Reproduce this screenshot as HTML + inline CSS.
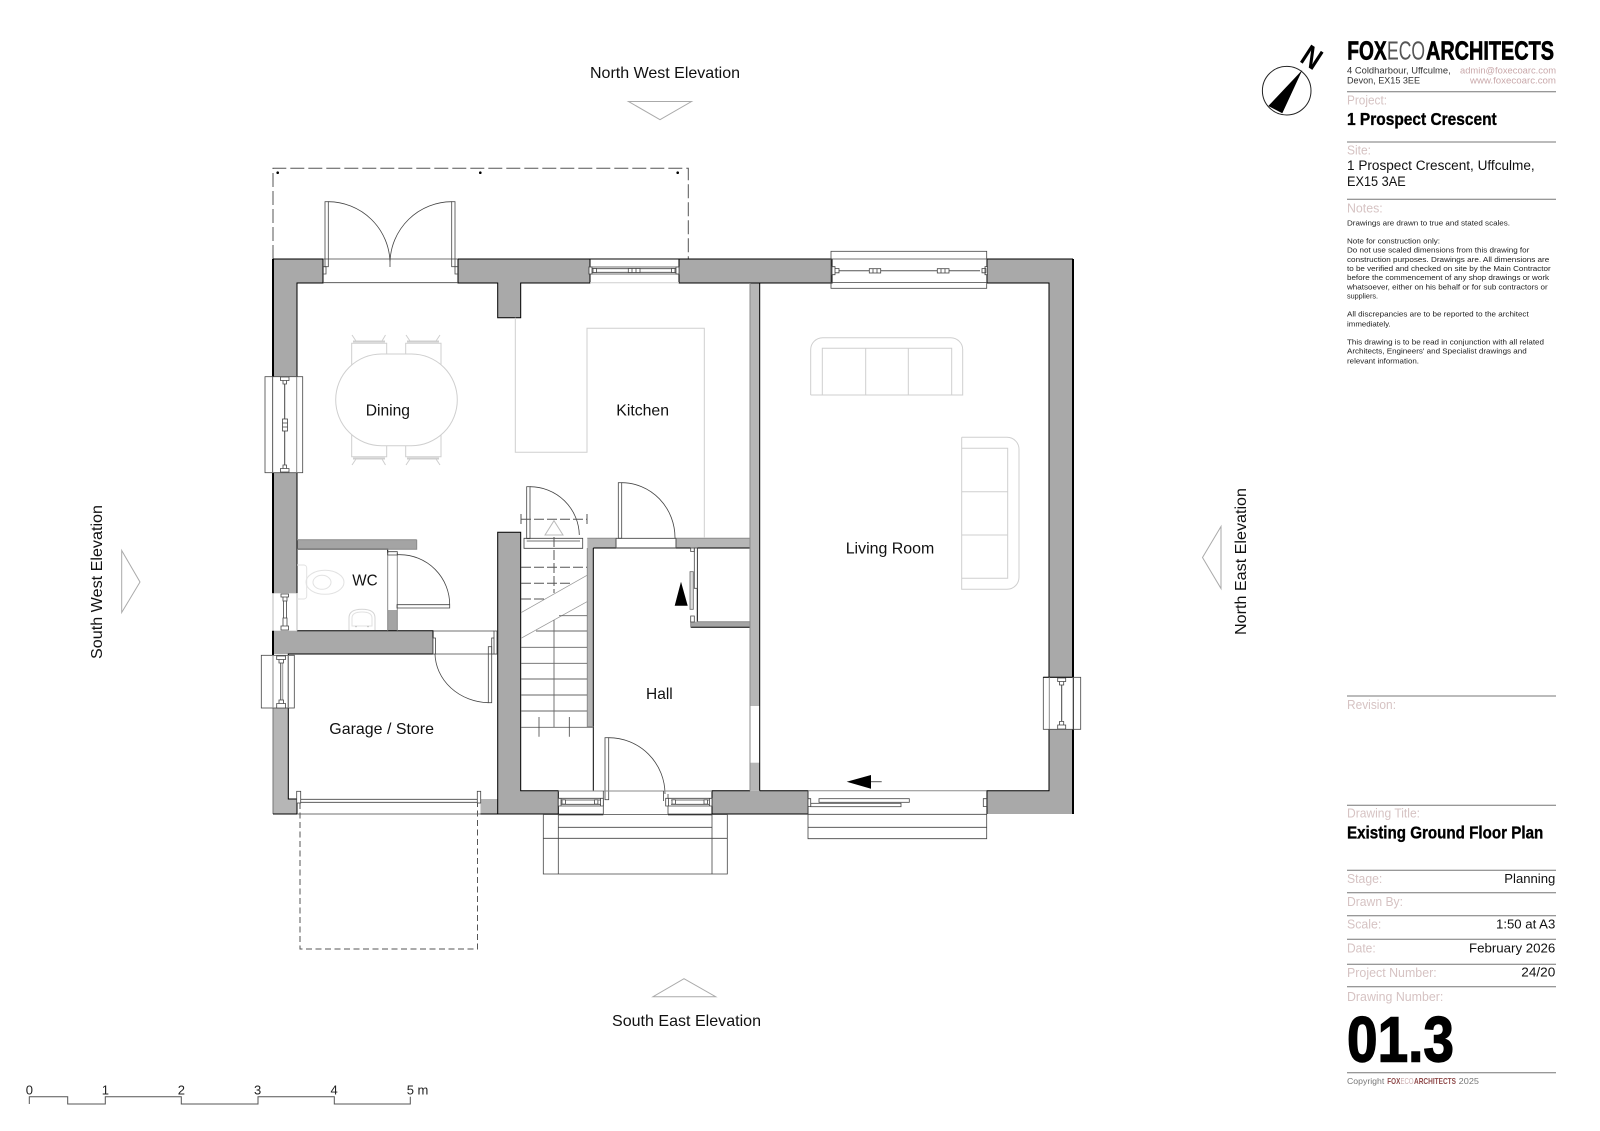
<!DOCTYPE html>
<html><head><meta charset="utf-8"><title>Existing Ground Floor Plan</title>
<style>
html,body{margin:0;padding:0;background:#fff}
svg{display:block;font-family:"Liberation Sans",Arial,sans-serif}
.w{fill:#a9a9a9}.l{fill:#b6b6b6}
.k{fill:none;stroke:#000;stroke-width:1}
.g{fill:none;stroke:#444;stroke-width:.8}
.m{fill:none;stroke:#8a8a8a;stroke-width:1}
.f{fill:none;stroke:#cfcfcf;stroke-width:1}
.fw{fill:#fff;stroke:#444;stroke-width:.8}
.r{font-size:16px;fill:#111}
.lb{font-size:13px;fill:#d6c3c3}
.v{font-size:13px;fill:#111}
.n{font-size:7.4px;fill:#222}
.b{font-weight:bold;fill:#000;stroke:#000;stroke-width:.35}
.rule{stroke:#777;stroke-width:1}
</style></head><body>
<svg width="1600" height="1131" viewBox="0 0 1600 1131" xmlns="http://www.w3.org/2000/svg">
<rect width="1600" height="1131" fill="#fff"/>

<!-- dashed canopy -->
<path d="M273 259V168.3H688.3V259" fill="none" stroke="#555" stroke-width="1" stroke-dasharray="14 4"/>
<circle cx="277.7" cy="172.7" r="1.3" fill="#000"/><circle cx="480.3" cy="172.7" r="1.3" fill="#000"/><circle cx="677.7" cy="172.7" r="1.3" fill="#000"/>

<!-- walls -->
<rect class="w" x="273" y="259" width="50" height="24"/>
<rect class="w" x="273" y="259" width="24" height="118"/>
<rect class="w" x="273" y="472.7" width="24" height="120.6"/>
<rect class="w" x="458" y="259" width="132" height="24"/>
<rect class="w" x="497.7" y="283" width="23" height="34.7"/>
<rect class="w" x="679" y="259" width="153" height="24"/>
<rect class="w" x="987" y="259" width="86" height="24"/>
<rect class="w" x="1049" y="259" width="24" height="418"/>
<rect class="w" x="1049" y="729" width="24" height="85"/>
<rect class="w" x="987" y="790.7" width="86" height="23.3"/>
<rect class="w" x="273" y="630.7" width="160" height="23.3"/>
<rect class="w" x="497.7" y="532.3" width="23" height="281.7"/>
<rect class="w" x="497.7" y="790.7" width="60.6" height="23.3"/>
<rect class="w" x="712" y="790.7" width="96" height="23.3"/>
<rect class="l" x="273" y="708" width="15.3" height="106"/>
<rect class="l" x="273" y="799" width="24" height="15"/>
<rect class="l" x="480.5" y="799" width="17.2" height="15"/>
<rect x="297" y="539.7" width="119.7" height="9.6" fill="#a4a4a4"/>
<rect x="387.7" y="610" width="9.6" height="20.7" fill="#a4a4a4"/>
<rect class="l" x="587.3" y="548" width="6" height="178.7"/>
<rect class="l" x="587.3" y="538.3" width="28.7" height="10"/>
<rect class="l" x="676" y="538.3" width="74" height="10"/>
<rect class="l" x="750" y="283" width="9.7" height="423"/>
<rect class="l" x="750" y="762.7" width="9.7" height="28"/>
<rect x="690.7" y="621.7" width="59.3" height="5.6" fill="#a4a4a4"/>

<!-- wall edges -->
<path d="M273 259V593.3M1073 259V814" fill="none" stroke="#000" stroke-width="2"/>
<path d="M273 630.7V655" fill="none" stroke="#000" stroke-width="2"/>
<path d="M273 708V814" stroke="#777" stroke-width="1"/>
<path class="k" d="M273 259H323M458 259H590M679 259H832M987 259H1073"/>
<path class="k" d="M297 377V283H323V259M323 259V283M458 259V283H497.7V317.7H520.7V283H590V259M679 259V283H832V259M759.7 283V790.7M759.7 283H832M987 259V283H1049V677M1049 729V790.7H987V814"/>
<path class="k" d="M297 472.7V593.3M297 549.3H387.7V553M297 630.7H433V654H288.3V708M288.3 708V799H297V814M273 814H297"/>
<path class="k" d="M497.7 814V532.3H520.7V790.7H558.3V814M497.7 814H480.5M712 814V790.7H750M759.7 790.7H808V814H712M558.3 814H497.7"/>
<path class="m" d="M416.7 539.7V549.3H297M297 539.7H416.7M387.7 610V630.7M397.3 610V630.7M387.7 553V610M397.3 553V610"/>
<path class="k" d="M593.3 548H690.7M593.3 548V726.7M593.3 726.7V790.7M697.3 548H750M697.3 548V621.7M690.7 627.3H750"/>
<path class="m" d="M587.3 548V726.7H593.3M697.3 621.7H750M690.7 621.7V627.3"/>
<path class="m" d="M750 283V790.7M587.3 538.3H616V548M676 548V538.3H750V548"/>
<path d="M558.3 814.5H603.3M668 814.5H712" stroke="#000" stroke-width="1.6"/>

<!-- double doors top -->
<path class="g" d="M323 259H458M323 282.7H458"/>
<rect class="g" x="325" y="201.7" width="3.3" height="65"/><rect class="g" x="451.7" y="201.7" width="3.3" height="65"/>
<path class="g" d="M323 266.7H326V274H323M458 266.7H455V274H458"/>
<path class="g" d="M328.3 201.7A62 62 0 0 1 390 262M451.7 201.7A62 62 0 0 0 390 262M390 258V267"/>

<!-- kitchen window -->
<path class="k" d="M590 259H679"/><path d="M590 282.7H679" stroke="#cfcfcf"/>
<path class="fw" d="M589 267H679V274H589Z"/><path class="g" d="M592 268.7H676M592 272.3H676"/>
<rect class="fw" x="589" y="267" width="3" height="7"/><rect class="fw" x="676" y="267" width="3" height="7"/>
<rect class="fw" x="593" y="268.5" width="3.5" height="4"/><rect class="fw" x="671.5" y="268.5" width="3.5" height="4"/>
<rect class="fw" x="628.3" y="268.5" width="11.7" height="4"/><path class="g" d="M632 268.5v4M636 268.5v4"/>

<!-- living top window -->
<rect class="g" x="831" y="251.3" width="155.7" height="37"/>
<path class="g" d="M831 259H986.7M831 282.4H986.7"/>
<path d="M838 270.7H980" stroke="#555" stroke-width="1"/>
<path class="fw" d="M832 266.7H835V274.7H832ZM835 268.5H839V272.8H835ZM982 268.5H986V272.8H982ZM985 266.7H987.5V274.7H985Z"/>
<rect class="fw" x="869.3" y="268.7" width="11.4" height="4.3"/><path class="g" d="M873 268.7v4.3M877 268.7v4.3"/>
<rect class="fw" x="937.3" y="268.7" width="11.7" height="4.3"/><path class="g" d="M941 268.7v4.3M945 268.7v4.3"/>

<!-- left window -->
<rect x="273" y="376.7" width="24" height="96" fill="#fff"/>
<rect class="g" x="265" y="376.7" width="37.7" height="96"/>
<path class="m" d="M272.7 376.7V472.7M296.7 376.7V472.7"/>
<path d="M284.7 384V466" stroke="#444"/>
<path class="fw" d="M280.5 377H289V380.5H280.5ZM283 380.5H286.5V384H283ZM283 465H286.5V468.5H283ZM280.5 468.5H289V472H280.5Z"/>
<rect class="fw" x="282.5" y="419" width="5" height="12"/><path class="g" d="M282.5 423H287.5M282.5 427H287.5"/>

<!-- WC window -->
<path d="M273 593.3V630.7M297 593.3V630.7" stroke="#bbb"/>
<path class="g" d="M281 594H288.5V597H281ZM283 597H287V601H283ZM283 618H287V626H283ZM281 626H288.5V630H281Z"/>
<path d="M283.5 601V618M286.5 601V618" stroke="#444" stroke-width=".8"/>

<!-- garage window -->
<rect class="g" x="261.3" y="655.3" width="33" height="52.7"/>
<path class="m" d="M273 655.3V708M288.3 655.3V708"/>
<path d="M280.7 663V700" stroke="#555"/><path d="M282.7 663V700" stroke="#999"/>
<path class="fw" d="M276.7 656H285.5V659.5H276.7ZM279 659.5H283.5V663H279ZM279 700H283.5V703.5H279ZM276.7 703.5H285.5V708H276.7Z"/>

<!-- right window -->
<rect x="1049.5" y="677.3" width="23" height="52" fill="#fff"/>
<rect class="g" x="1043.3" y="677.3" width="37.4" height="52"/>
<path class="k" d="M1043.3 677.3H1073"/>
<path class="m" d="M1049.3 677.3V729.3M1073 677.3V729.3"/>
<path d="M1061.7 685V721" stroke="#444"/>
<path class="fw" d="M1057.7 678H1065.7V681.5H1057.7ZM1059.5 681.5H1063.7V685H1059.5ZM1059.5 721.5H1063.7V725H1059.5ZM1057.7 725H1065.7V729H1057.7Z"/>

<!-- WC door -->
<path class="g" d="M387.7 551.7H397.3V555H387.7Z"/>
<path class="g" d="M397 604.7H449.7V608H397ZM397 554.7H400A50 50 0 0 1 449.7 604.7"/>

<!-- garage side door -->
<path class="g" d="M433 631H494M433 654H497.7"/>
<path class="fw" d="M433 638H435.5V654H433ZM491.7 638H494V654H491.7ZM494 631H497V654H494Z"/>
<rect class="g" x="488.3" y="646.7" width="3.4" height="56"/>
<path class="g" d="M435 654A55 50 0 0 0 488.3 702.7"/>

<!-- stair door + stairs -->
<rect class="g" x="526.7" y="486.7" width="3.3" height="52"/>
<path class="g" d="M530 486.7A49.3 49.3 0 0 1 579.3 535"/>
<path class="g" d="M524 538.3H582.7V548.3H524Z"/>
<path class="g" d="M526.7 541H580"/>
<path d="M521 519.3H587M521 514V526M587 514V526M521 567.3H587M521 583.3H571.7M521 599H545M554 537V593" fill="none" stroke="#555" stroke-width="1" stroke-dasharray="10 3"/>
<path d="M554 520.7L545 535H563Z" fill="none" stroke="#bbb"/>
<path d="M521 612.7L587 575.3M521 638.3L587 601.7" stroke="#999" stroke-width=".8"/>
<path d="M559 615.7H587M536 631H587M521 647.3H587M521 663.3H587M521 679H587M521 695H587M521 711H587M521 727.3H593M554 620V727.3" fill="none" stroke="#666" stroke-width=".9"/>
<path class="g" d="M539 717V736.7M569.3 717V736.7"/>

<!-- hall door top -->
<rect class="g" x="618.3" y="482.7" width="3.4" height="55.6"/>
<path class="g" d="M621.7 482.7A53.3 55 0 0 1 675 538M616 538.3H676M616 548H676M616 538.3V548M676 538.3V548"/>

<!-- closet door -->
<rect class="fw" x="694.3" y="548" width="3" height="40.3"/>
<rect x="690" y="571.7" width="3.3" height="37.6" fill="#ddd" stroke="#666" stroke-width=".8"/>
<path class="g" d="M690.7 548H694.3V551.5H690.7ZM690.7 616H694.3V622H690.7Z"/>
<path d="M681 581.7L674.7 605.7H687.7Z" fill="#000"/>

<!-- front door -->
<rect class="g" x="605" y="737.7" width="3.7" height="62"/>
<path class="g" d="M608.7 737.7A56.3 56.3 0 0 1 665 794"/>
<path class="m" d="M558.3 791H712"/>
<path class="g" d="M603.3 791V814M668 794V814M663.5 791V801"/>

<!-- front windows -->
<path class="fw" d="M558.3 798.3H603.3V806H558.3Z"/><path class="g" d="M561 800H601M561 804.3H601M561 798.3V806M600.5 798.3V806"/>
<rect class="fw" x="562" y="799.8" width="3.4" height="4.3"/><rect class="fw" x="594.5" y="799.8" width="3.4" height="4.3"/>
<path class="fw" d="M665.7 798.3H712V806H665.7Z"/><path class="g" d="M671 800H709M671 804.3H709M668.5 798.3V806M709.5 798.3V806"/>
<rect class="fw" x="672" y="799.8" width="3.4" height="4.3"/><rect class="fw" x="704" y="799.8" width="3.4" height="4.3"/>

<!-- front steps -->
<path class="g" d="M543.3 814V874H727.3V814M558.3 814V874M712 814V874M558.3 827.3H712M543.3 838.3H727.3M543.3 814.5H727.3"/>

<!-- garage door -->
<path class="g" d="M299 799.3H478M299 802.3H478M297 814H480.5"/>
<rect class="fw" x="296.7" y="791.3" width="4" height="11.7"/><rect class="fw" x="477.3" y="791.3" width="3.4" height="11.7"/>
<path d="M300 803V949H477.5V803" fill="none" stroke="#555" stroke-width="1" stroke-dasharray="6 3.5"/>

<!-- living front door -->
<path class="m" d="M808 790.7H986.7"/>
<path class="g" d="M808 790.7V838.7H986.7V790.7M808 814.3H986.7M808 827.3H986.7"/>
<rect class="fw" x="819" y="798.7" width="90.3" height="3.6"/>
<rect class="fw" x="810.7" y="803.3" width="90.3" height="3.4"/>
<path class="fw" d="M808 798.7H810.7V806.5H808ZM983.3 798.7H986.7V806.5H983.3Z"/>
<path d="M846.7 781.7L871 775V788.7Z" fill="#000"/><path d="M871 781.7H881.7" stroke="#555"/>

<!-- dining furniture -->
<g class="f" fill="none">
<path d="M351.7 380V343.3H386.7V380M405.7 380V343.3H441V380M351.7 420V456.7H386.7V420M405.7 420V456.7H441V420"/>
<path d="M353 341.5H385M407 341.5H439M353 458.5H385M407 458.5H439" stroke="#cfcfcf" stroke-width="2"/>
<path d="M352 335L356 341M385.5 335L382 341M406 335L410 341M440 335L436 341M352 465L356 459M385.5 465L382 459M406 465L410 459M440 465L436 459"/>
<rect x="335.7" y="354" width="121.6" height="91.7" rx="45.8" ry="45.8" fill="#fff" stroke="#cfcfcf"/>
</g>
<path class="f" d="M515.3 317.7V452.3H587V328.3H704.3V538"/>

<!-- WC fittings -->
<path d="M297 565H304A3 3 0 0 1 306.7 568V596A3 3 0 0 1 304 599H297" fill="none" stroke="#e2e2e2"/>
<ellipse cx="325" cy="582.3" rx="19" ry="12" fill="none" stroke="#e2e2e2"/>
<ellipse cx="322" cy="582.3" rx="9" ry="7" fill="none" stroke="#e2e2e2"/>
<path d="M349 630V618Q349 609.3 362 609.3T375 618V630" fill="none" stroke="#d5d5d5"/>
<path d="M352 618Q352 612 362 612T372 618V626H352Z" fill="none" stroke="#e2e2e2"/>
<circle cx="356" cy="626.5" r=".8" fill="#bbb"/><circle cx="368" cy="626.5" r=".8" fill="#bbb"/>

<!-- sofas -->
<path class="f" stroke="#dcdcdc" d="M810.7 395V350A12 12 0 0 1 822.7 337.7H950.7A12 12 0 0 1 962.7 350V395H810.7M822.3 395V348.3H951.7V395M865.7 348.3V395M908.3 348.3V395"/>
<path class="f" stroke="#dcdcdc" d="M961.7 437.3H1007A12 12 0 0 1 1019 449.3V577.3A12 12 0 0 1 1007 589.3H961.7V437.3M961.7 448.3H1007.7V578.3H961.7M961.7 491.7H1007.7M961.7 535H1007.7"/>

<!-- room labels -->
<text class="r" x="365.7" y="415.6" textLength="44.3" lengthAdjust="spacingAndGlyphs">Dining</text>
<text class="r" x="616.3" y="415.7" textLength="52.7" lengthAdjust="spacingAndGlyphs">Kitchen</text>
<text class="r" x="352.3" y="585.7" textLength="25.4" lengthAdjust="spacingAndGlyphs">WC</text>
<text class="r" x="329.3" y="734" textLength="104.7" lengthAdjust="spacingAndGlyphs">Garage / Store</text>
<text class="r" x="646" y="699" textLength="26.7" lengthAdjust="spacingAndGlyphs">Hall</text>
<text class="r" x="845.7" y="553.7" textLength="88.6" lengthAdjust="spacingAndGlyphs">Living Room</text>

<!-- elevations -->
<text class="r" x="590" y="78.2" textLength="150" lengthAdjust="spacingAndGlyphs">North West Elevation</text>
<path d="M628.5 101.5H691.5L660 119.7Z" fill="none" stroke="#aaa"/>
<text class="r" x="612" y="1026" textLength="149" lengthAdjust="spacingAndGlyphs">South East Elevation</text>
<path d="M653 996.7H715.7L684 978.7Z" fill="none" stroke="#aaa"/>
<text class="r" transform="translate(102 659) rotate(-90)" textLength="154" lengthAdjust="spacingAndGlyphs">South West Elevation</text>
<path d="M121.7 550.5L140 582L121.7 612.5Z" fill="none" stroke="#aaa"/>
<text class="r" transform="translate(1246 635) rotate(-90)" textLength="147" lengthAdjust="spacingAndGlyphs">North East Elevation</text>
<path d="M1221 526.5L1202.5 557.5L1221 588.5Z" fill="none" stroke="#aaa"/>

<!-- north arrow -->
<circle cx="1286.7" cy="90.7" r="24.3" fill="none" stroke="#222" stroke-width="1"/>
<path d="M1302.3 70L1268.3 106L1282.3 113.3Z" fill="#000"/>
<text transform="translate(1298.6 61) rotate(33)" font-size="30" font-weight="bold" textLength="18" lengthAdjust="spacingAndGlyphs" fill="#000">N</text>

<!-- scale bar -->
<path d="M29.3 1104V1096.7H67.7V1104H105.3V1096.7H181.3V1104H258V1096.7H334.3V1104H410.3V1096.7" fill="none" stroke="#555" stroke-width="1"/>
<g font-size="13" fill="#222">
<text x="25.7" y="1094.3">0</text><text x="101.7" y="1094.3">1</text><text x="177.7" y="1094.3">2</text><text x="254" y="1094.3">3</text><text x="330.5" y="1094.3">4</text><text x="406.7" y="1094.3">5 m</text>
</g>

<!-- title block -->
<text class="b" x="1347.3" y="59.3" font-size="26" style="stroke-width:.7" textLength="39.4" lengthAdjust="spacingAndGlyphs">FOX</text>
<text x="1387" y="59.3" font-size="26" fill="#555" textLength="38" lengthAdjust="spacingAndGlyphs">ECO</text>
<text class="b" x="1426" y="59.3" font-size="26" style="stroke-width:.7" textLength="128" lengthAdjust="spacingAndGlyphs">ARCHITECTS</text>
<g font-size="9" fill="#333">
<text x="1347" y="73.3" textLength="103.7" lengthAdjust="spacingAndGlyphs">4 Coldharbour, Uffculme,</text>
<text x="1347" y="83.3" textLength="73" lengthAdjust="spacingAndGlyphs">Devon, EX15 3EE</text>
</g>
<g font-size="9" fill="#c9a8aa">
<text x="1460" y="73.3" textLength="96" lengthAdjust="spacingAndGlyphs">admin@foxecoarc.com</text>
<text x="1470" y="83.3" textLength="86" lengthAdjust="spacingAndGlyphs">www.foxecoarc.com</text>
</g>
<line class="rule" x1="1347" y1="91.7" x2="1556" y2="91.7"/>
<text class="lb" x="1347" y="104.3" textLength="40" lengthAdjust="spacingAndGlyphs">Project:</text>
<text class="b" x="1347" y="125" font-size="17.7" textLength="149.7" lengthAdjust="spacingAndGlyphs">1 Prospect Crescent</text>
<line class="rule" x1="1347" y1="142" x2="1556" y2="142"/>
<text class="lb" x="1347" y="154.3" textLength="24" lengthAdjust="spacingAndGlyphs">Site:</text>
<text x="1347" y="170" font-size="13.5" fill="#111" textLength="187.7" lengthAdjust="spacingAndGlyphs">1 Prospect Crescent, Uffculme,</text>
<text x="1347" y="186" font-size="13.5" fill="#111" textLength="58.7" lengthAdjust="spacingAndGlyphs">EX15 3AE</text>
<line class="rule" x1="1347" y1="199.3" x2="1556" y2="199.3"/>
<text class="lb" x="1347" y="212.3" textLength="35.7" lengthAdjust="spacingAndGlyphs">Notes:</text>
<text class="n" x="1347" y="225.7" textLength="163" lengthAdjust="spacingAndGlyphs">Drawings are drawn to true and stated scales.</text>
<text class="n" x="1347" y="243.7" textLength="93" lengthAdjust="spacingAndGlyphs">Note for construction only:</text>
<text class="n" x="1347" y="252.7" textLength="182.3" lengthAdjust="spacingAndGlyphs">Do not use scaled dimensions from this drawing for</text>
<text class="n" x="1347" y="262" textLength="202.3" lengthAdjust="spacingAndGlyphs">construction purposes.  Drawings are. All dimensions are</text>
<text class="n" x="1347" y="271" textLength="203.7" lengthAdjust="spacingAndGlyphs">to be verified and checked on site by the Main Contractor</text>
<text class="n" x="1347" y="280" textLength="202" lengthAdjust="spacingAndGlyphs">before the commencement of any shop drawings or work</text>
<text class="n" x="1347" y="289.3" textLength="200.7" lengthAdjust="spacingAndGlyphs">whatsoever, either on his behalf or for sub contractors or</text>
<text class="n" x="1347" y="298.7" textLength="31" lengthAdjust="spacingAndGlyphs">suppliers.</text>
<text class="n" x="1347" y="316.7" textLength="181.7" lengthAdjust="spacingAndGlyphs">All discrepancies are to be reported to the architect</text>
<text class="n" x="1347" y="326.3" textLength="43.7" lengthAdjust="spacingAndGlyphs">immediately.</text>
<text class="n" x="1347" y="344.3" textLength="197" lengthAdjust="spacingAndGlyphs">This drawing is to be read in conjunction with all related</text>
<text class="n" x="1347" y="353.7" textLength="179.7" lengthAdjust="spacingAndGlyphs">Architects, Engineers' and Specialist drawings and</text>
<text class="n" x="1347" y="363.3" textLength="72" lengthAdjust="spacingAndGlyphs">relevant information.</text>

<line class="rule" x1="1347" y1="696" x2="1556" y2="696"/>
<text class="lb" x="1347" y="709" textLength="49" lengthAdjust="spacingAndGlyphs">Revision:</text>
<line class="rule" x1="1347" y1="805.3" x2="1556" y2="805.3"/>
<text class="lb" x="1347" y="817.7" textLength="73" lengthAdjust="spacingAndGlyphs">Drawing Title:</text>
<text class="b" x="1347" y="838.7" font-size="17.7" textLength="196.3" lengthAdjust="spacingAndGlyphs">Existing Ground Floor Plan</text>
<line class="rule" x1="1347" y1="870.3" x2="1556" y2="870.3"/>
<text class="lb" x="1347" y="883" textLength="35.3" lengthAdjust="spacingAndGlyphs">Stage:</text>
<text class="v" x="1504.3" y="883" textLength="51" lengthAdjust="spacingAndGlyphs">Planning</text>
<line class="rule" x1="1347" y1="892.7" x2="1556" y2="892.7"/>
<text class="lb" x="1347" y="906" textLength="56" lengthAdjust="spacingAndGlyphs">Drawn By:</text>
<line class="rule" x1="1347" y1="915.7" x2="1556" y2="915.7"/>
<text class="lb" x="1347" y="928.7" textLength="34.3" lengthAdjust="spacingAndGlyphs">Scale:</text>
<text class="v" x="1496" y="928.3" textLength="59.3" lengthAdjust="spacingAndGlyphs">1:50 at A3</text>
<line class="rule" x1="1347" y1="939.3" x2="1556" y2="939.3"/>
<text class="lb" x="1347" y="952.7" textLength="28.7" lengthAdjust="spacingAndGlyphs">Date:</text>
<text class="v" x="1469" y="952.7" textLength="86.3" lengthAdjust="spacingAndGlyphs">February 2026</text>
<line class="rule" x1="1347" y1="964.3" x2="1556" y2="964.3"/>
<text class="lb" x="1347" y="977" textLength="89.7" lengthAdjust="spacingAndGlyphs">Project Number:</text>
<text class="v" x="1521.3" y="976.7" textLength="34" lengthAdjust="spacingAndGlyphs">24/20</text>
<line class="rule" x1="1347" y1="986.7" x2="1556" y2="986.7"/>
<text class="lb" x="1347" y="1001" textLength="96.3" lengthAdjust="spacingAndGlyphs">Drawing Number:</text>
<text class="b" x="1347" y="1061.7" font-size="64" style="stroke-width:1.4" textLength="107" lengthAdjust="spacingAndGlyphs">01.3</text>
<line class="rule" x1="1347" y1="1072.7" x2="1556" y2="1072.7"/>
<text x="1347" y="1084" font-size="8.5" fill="#777" textLength="37.3" lengthAdjust="spacingAndGlyphs">Copyright</text>
<text x="1387.3" y="1084" font-size="8.5" font-weight="bold" fill="#8f4a4a" textLength="13" lengthAdjust="spacingAndGlyphs">FOX</text>
<text x="1400.5" y="1084" font-size="8.5" fill="#c9a8aa" textLength="13" lengthAdjust="spacingAndGlyphs">ECO</text>
<text x="1414" y="1084" font-size="8.5" font-weight="bold" fill="#8f4a4a" textLength="42" lengthAdjust="spacingAndGlyphs">ARCHITECTS</text>
<text x="1458.7" y="1084" font-size="8.5" fill="#777" textLength="20.3" lengthAdjust="spacingAndGlyphs">2025</text>
</svg>
</body></html>
